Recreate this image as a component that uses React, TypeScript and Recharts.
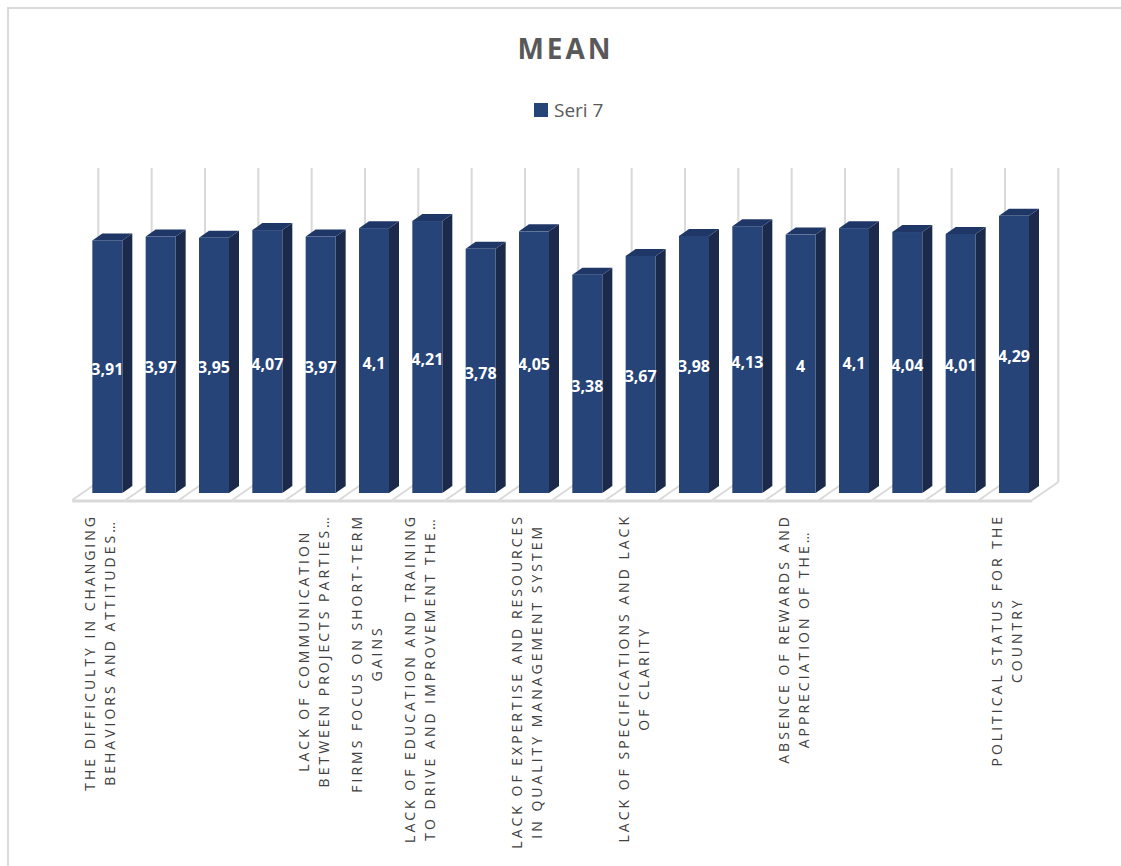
import React from "react";
import { BarChart, Bar, XAxis, YAxis, LabelList } from "recharts";

// mean score per factor (Seri 7)
const FACTOR_IDS = [
  "F1", "F2", "F3", "F4", "F5", "F6", "F7", "F8", "F9",
  "F10", "F11", "F12", "F13", "F14", "F15", "F16", "F17", "F18",
];
const MEAN_VALUES = [
  3.91, 3.97, 3.95, 4.07, 3.97, 4.1, 4.21, 3.78, 4.05,
  3.38, 3.67, 3.98, 4.13, 4, 4.1, 4.04, 4.01, 4.29,
];
// only the labels Excel actually printed (others were skipped)
const TICK_LABELS: string[][] = [
  ["THE DIFFICULTY IN CHANGING", "BEHAVIORS AND ATTITUDES…"],
  [],
  [],
  [],
  ["LACK OF COMMUNICATION", "BETWEEN PROJECTS PARTIES…"],
  ["FIRMS FOCUS ON SHORT-TERM", "GAINS"],
  ["LACK OF EDUCATION AND TRAINING", "TO DRIVE AND IMPROVEMENT THE…"],
  [],
  ["LACK OF EXPERTISE AND RESOURCES", "IN QUALITY MANAGEMENT SYSTEM"],
  [],
  ["LACK OF SPECIFICATIONS AND LACK", "OF CLARITY"],
  [],
  [],
  ["ABSENCE OF REWARDS AND", "APPRECIATION OF THE…"],
  [],
  [],
  [],
  ["POLITICAL STATUS FOR THE", "COUNTRY"],
];
const SERIES_NAME = "Seri 7";
const TITLE = "MEAN";

const data = FACTOR_IDS.map((id, i) => ({ id, value: MEAN_VALUES[i] }));

const W = 1121;
const H = 866;
const MARGIN = { top: 170, right: 80.67, left: 80.33, bottom: 343 };
const AXIS_H = 30;
const BAND = (W - MARGIN.left - MARGIN.right) / FACTOR_IDS.length;
const BAR_W = 30;

// fake 3D depth
const DX = 10;
const DY = 7;
const FLOOR_FRONT = 7;
const FLOOR_BACK = 11;
const FLOOR_SHIFT_L = 8.33;
const FLOOR_SHIFT_R = 17.67;

const FRONT = "#264478";
const SIDE = "#1b2a4b";
const TOP = "#1f3766";
const GRID = "#d9d9d9";
const TEXT = "#595959";
const TICK_TEXT = "#404040";
const FONT = "'Open Sans', sans-serif";

const TICK_FONT_SIZE = 14;
const TICK_SPACING = 3.0;

let measureCtx: CanvasRenderingContext2D | null = null;
function measure(text: string) {
  if (!measureCtx) {
    const c = document.createElement("canvas");
    measureCtx = c.getContext("2d");
  }
  if (!measureCtx) return text.length * 11;
  measureCtx.font = `${TICK_FONT_SIZE}px 'Open Sans'`;
  (measureCtx as any).letterSpacing = `${TICK_SPACING}px`;
  return measureCtx.measureText(text).width;
}

function Bar3D(props: any) {
  const { x, y, width, height } = props;
  if (height <= 0) return null;
  return (
    <g>
      <polygon
        points={`${x + width},${y} ${x + width + DX},${y - DY} ${x + width + DX},${y + height - DY} ${x + width},${y + height}`}
        fill={SIDE}
      />
      <polygon
        points={`${x},${y} ${x + DX},${y - DY} ${x + width + DX},${y - DY} ${x + width},${y}`}
        fill={TOP}
      />
      <rect x={x} y={y} width={width} height={height} fill={FRONT} />
    </g>
  );
}

// floor cell + back wall gridline for each category
function FloorCell(props: any) {
  const { x, y, width, height, index } = props;
  const bandStart = x + width / 2 - BAND / 2;
  const bottom = y + height;
  const fl = bandStart - FLOOR_SHIFT_L;
  const bl = bandStart + FLOOR_SHIFT_R;
  const last = index === FACTOR_IDS.length - 1;
  return (
    <g>
      <line x1={bl} y1={y - 2} x2={bl} y2={bottom - FLOOR_BACK} stroke={GRID} strokeWidth={2} />
      <line x1={fl} y1={bottom + FLOOR_FRONT} x2={bl} y2={bottom - FLOOR_BACK} stroke={GRID} strokeWidth={2} />
      <line x1={fl} y1={bottom + FLOOR_FRONT + 1} x2={fl + BAND} y2={bottom + FLOOR_FRONT + 1} stroke={GRID} strokeWidth={3} />
      {last && (
        <>
          <line x1={bl + BAND} y1={y - 2} x2={bl + BAND} y2={bottom - FLOOR_BACK} stroke={GRID} strokeWidth={2} />
          <line x1={fl + BAND} y1={bottom + FLOOR_FRONT} x2={bl + BAND} y2={bottom - FLOOR_BACK} stroke={GRID} strokeWidth={2} />
        </>
      )}
    </g>
  );
}

function CategoryTick(props: any) {
  const { x, y, payload } = props;
  const lines = TICK_LABELS[payload.index] || [];
  if (!lines.length) return null;
  const longest = Math.max(...lines.map(measure));
  const cx = x - 7;
  const top = y + 13;
  const gap = 20;
  return (
    <g transform={`translate(${cx},${top}) rotate(-90)`}>
      {lines.map((ln, i) => (
        <text
          key={i}
          x={-longest / 2}
          y={(i - (lines.length - 1) / 2) * gap}
          textAnchor="middle"
          dominantBaseline="central"
          fill={TICK_TEXT}
          fontSize={TICK_FONT_SIZE}
          fontFamily={FONT}
          letterSpacing={TICK_SPACING}
        >
          {ln}
        </text>
      ))}
    </g>
  );
}

function ValueLabel(props: any) {
  const { x, y, width, height, value } = props;
  return (
    <text
      x={x + width / 2}
      y={y + height / 2 + 2}
      textAnchor="middle"
      dominantBaseline="central"
      fill="#ffffff"
      fontSize={16}
      fontWeight={700}
      fontFamily={FONT}
    >
      {String(value).replace(".", ",")}
    </text>
  );
}

export default function App() {
  return (
    <div
      style={{
        position: "absolute",
        left: 0,
        top: 0,
        width: W,
        height: H,
        background: "#fff",
        overflow: "hidden",
        fontFamily: FONT,
      }}
    >
      <div
        style={{
          position: "absolute",
          left: 7,
          top: 7,
          width: W,
          height: H,
          borderTop: `2px solid ${GRID}`,
          borderLeft: `2px solid ${GRID}`,
        }}
      />
      <div
        style={{
          position: "absolute",
          left: 0,
          width: W,
          top: 28,
          textAlign: "center",
          fontSize: 28,
          fontWeight: 700,
          letterSpacing: 3,
          color: TEXT,
          lineHeight: "40px",
          paddingLeft: 10,
          boxSizing: "border-box",
        }}
      >
        {TITLE}
      </div>
      <div
        style={{
          position: "absolute",
          left: 534,
          top: 96,
          display: "flex",
          alignItems: "center",
          height: 28,
          fontSize: 19,
          color: TEXT,
        }}
      >
        <span style={{ width: 14, height: 14, background: FRONT, display: "inline-block", marginRight: 6 }} />
        {SERIES_NAME}
      </div>
      <div style={{ position: "absolute", left: 0, top: 0 }}>
        <BarChart width={W} height={H} data={data} margin={MARGIN}>
          <XAxis
            dataKey="id"
            interval={0}
            axisLine={false}
            tickLine={false}
            height={AXIS_H}
            tick={<CategoryTick />}
          />
          <YAxis hide domain={[0, 5]} />
          <Bar
            dataKey="value"
            barSize={BAR_W}
            background={(p: any) => <FloorCell key={`f${p.index}`} {...p} />}
            shape={(p: any) => <Bar3D {...p} />}
            isAnimationActive={false}
          >
            <LabelList dataKey="value" content={<ValueLabel />} />
          </Bar>
        </BarChart>
      </div>
    </div>
  );
}
